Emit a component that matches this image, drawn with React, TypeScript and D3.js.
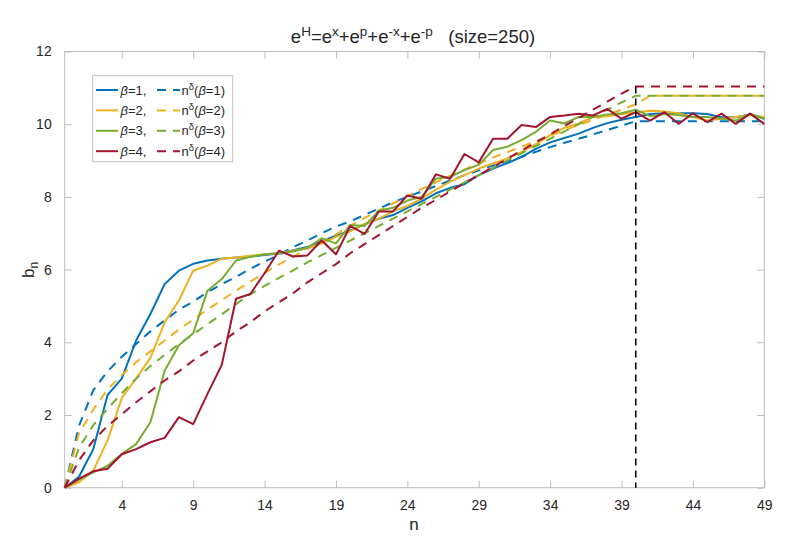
import React, { useEffect, useRef } from 'react';
import * as d3 from 'd3';

// n = 0 .. 49
const nValues = d3.range(0, 50);

// solid curves b_n for beta = 1..4
const bBeta1 = [
  0, 0.3, 1.06, 2.55, 3.0, 4.05, 4.78, 5.6, 5.97, 6.16,
  6.25, 6.3, 6.33, 6.36, 6.4, 6.44, 6.53, 6.62, 6.78, 6.93,
  7.07, 7.25, 7.4, 7.5, 7.7, 7.88, 8.1, 8.25, 8.35, 8.6,
  8.78, 8.93, 9.1, 9.32, 9.5, 9.62, 9.74, 9.9, 10.03, 10.12,
  10.2, 10.28, 10.3, 10.3, 10.3, 10.28, 10.19, 10.19, 10.27, 10.15,
];
const bBeta2 = [
  0, 0.15, 0.47, 1.3, 2.47, 3.0, 3.57, 4.55, 5.15, 5.97,
  6.11, 6.3, 6.33, 6.38, 6.42, 6.45, 6.52, 6.59, 6.72, 6.9,
  7.05, 7.25, 7.4, 7.6, 7.75, 7.95, 8.2, 8.42, 8.6, 8.78,
  8.92, 9.06, 9.24, 9.45, 9.7, 9.9, 10.02, 10.2, 10.22, 10.28,
  10.32, 10.37, 10.35, 10.3, 10.2, 10.1, 10.15, 10.2, 10.25, 10.2,
];
const bBeta3 = [
  0, 0.22, 0.42, 0.6, 0.93, 1.2, 1.8, 3.22, 3.92, 4.25,
  5.42, 5.74, 6.25, 6.35, 6.42, 6.45, 6.5, 6.6, 6.86, 6.72,
  7.23, 7.2, 7.62, 7.7, 7.9, 8.0, 8.5, 8.55, 8.74, 8.88,
  9.29, 9.38, 9.56, 9.79, 10.1, 10.02, 10.2, 10.2, 10.27, 10.3,
  10.4, 10.22, 10.28, 10.25, 10.2, 10.2, 10.15, 10.1, 10.29, 10.15,
];
const bBeta4 = [
  0, 0.25, 0.45, 0.52, 0.92, 1.06, 1.25, 1.37, 1.94, 1.75,
  2.58, 3.38, 5.2, 5.33, 5.9, 6.52, 6.36, 6.39, 6.8, 6.42,
  7.2, 6.98, 7.6, 7.6, 8.04, 7.95, 8.62, 8.5, 9.18, 8.95,
  9.6, 9.6, 9.98, 9.92, 10.2, 10.24, 10.29, 10.24, 10.42, 10.15,
  10.33, 10.1, 10.33, 10.01, 10.3, 10.06, 10.29, 10.01, 10.29, 10.01,
];

// dashed curves n^delta
const dBeta1 = [
  0, 1.7, 2.68, 3.2, 3.6, 3.95, 4.3, 4.6, 4.9, 5.12,
  5.38, 5.6, 5.8, 6.02, 6.22, 6.4, 6.62, 6.8, 7.0, 7.18,
  7.33, 7.5, 7.68, 7.85, 8.0, 8.15, 8.3, 8.45, 8.6, 8.73,
  8.86, 8.98, 9.1, 9.24, 9.37, 9.49, 9.6, 9.72, 9.84, 9.96,
  10.08, 10.08, 10.08, 10.08, 10.08, 10.08, 10.08, 10.08, 10.08, 10.08,
];
const dBeta2 = [
  0, 1.5, 2.15, 2.7, 3.1, 3.45, 3.75, 4.05, 4.35, 4.63,
  4.9, 5.16, 5.42, 5.67, 5.91, 6.14, 6.36, 6.57, 6.77, 6.97,
  7.2, 7.42, 7.62, 7.82, 8.02, 8.22, 8.4, 8.58, 8.75, 8.92,
  9.08, 9.23, 9.38, 9.53, 9.68, 9.83, 9.98, 10.12, 10.26, 10.4,
  10.55, 10.78, 10.78, 10.78, 10.78, 10.78, 10.78, 10.78, 10.78, 10.78,
];
const dBeta3 = [
  0, 1.1, 1.72, 2.17, 2.6, 3.0, 3.35, 3.65, 3.95, 4.22,
  4.5, 4.77, 5.05, 5.32, 5.55, 5.77, 5.98, 6.2, 6.4, 6.6,
  6.8, 7.0, 7.2, 7.4, 7.6, 7.8, 8.0, 8.2, 8.4, 8.6,
  8.8, 9.0, 9.2, 9.4, 9.6, 9.8, 10.0, 10.2, 10.4, 10.6,
  10.78, 10.78, 10.78, 10.78, 10.78, 10.78, 10.78, 10.78, 10.78, 10.78,
];
const dBeta4 = [
  0, 0.75, 1.3, 1.7, 2.02, 2.35, 2.65, 2.95, 3.2, 3.5,
  3.75, 4.0, 4.3, 4.55, 4.85, 5.1, 5.35, 5.65, 5.9, 6.15,
  6.45, 6.7, 6.95, 7.2, 7.45, 7.7, 7.92, 8.15, 8.38, 8.6,
  8.82, 9.05, 9.28, 9.5, 9.72, 9.95, 10.17, 10.4, 10.62, 10.84,
  11.04, 11.04, 11.04, 11.04, 11.04, 11.04, 11.04, 11.04, 11.04, 11.04,
];

const betas = [1, 2, 3, 4];
const colors = ['#0072BD', '#EDB120', '#77AC30', '#A2142F'];
const solidSeries = [bBeta1, bBeta2, bBeta3, bBeta4];
const dashedSeries = [dBeta1, dBeta2, dBeta3, dBeta4];

const xTicks = [4, 9, 14, 19, 24, 29, 34, 39, 44, 49];
const yTicks = [0, 2, 4, 6, 8, 10, 12];

// vertical marker
const cutoffN = 40;
const cutoffTop = 11.04;

const FONT = '"Liberation Sans", Arial, Helvetica, sans-serif';
const TEXT = '#262626';
const AXIS = '#bdbdbd';

export default function App() {
  const svgRef = useRef<SVGSVGElement>(null);

  useEffect(() => {
    if (!svgRef.current) return;
    const svg = d3.select(svgRef.current);
    svg.selectAll('*').remove();

    const left = 64.7, right = 764.3, top = 51.5, bottom = 487.7;
    const x = d3.scaleLinear().domain([0, 49]).range([left, right]);
    const y = d3.scaleLinear().domain([0, 12]).range([bottom, top]);

    // axes (ticks inside, MATLAB style)
    const styleAxis = (g: any) => {
      g.select('.domain').remove();
      g.selectAll('.tick line').attr('stroke', AXIS);
      g.selectAll('.tick text')
        .attr('fill', TEXT)
        .attr('font-family', FONT)
        .attr('font-size', '14px');
    };

    svg.append('g')
      .attr('transform', `translate(0,${bottom})`)
      .call(d3.axisBottom(x).tickValues(xTicks).tickSize(-7).tickPadding(12).tickFormat(d3.format('d')))
      .call(styleAxis);
    svg.append('g')
      .attr('transform', `translate(0,${top})`)
      .call(d3.axisTop(x).tickValues(xTicks).tickSize(-7).tickFormat(() => ''))
      .call(styleAxis);
    svg.append('g')
      .attr('transform', `translate(${left},0)`)
      .call(d3.axisLeft(y).tickValues(yTicks).tickSize(-7).tickPadding(13).tickFormat(d3.format('d')))
      .call(styleAxis);
    svg.append('g')
      .attr('transform', `translate(${right},0)`)
      .call(d3.axisRight(y).tickValues(yTicks).tickSize(-7).tickFormat(() => ''))
      .call(styleAxis);

    svg.append('rect')
      .attr('x', left).attr('y', top)
      .attr('width', right - left).attr('height', bottom - top)
      .attr('fill', 'none').attr('stroke', AXIS).attr('stroke-width', 1);

    const line = d3.line<number>()
      .x((_, i) => x(nValues[i]))
      .y(d => y(d));

    const plot = svg.append('g');
    betas.forEach((_, k) => {
      plot.append('path')
        .attr('d', line(solidSeries[k]))
        .attr('fill', 'none')
        .attr('stroke', colors[k])
        .attr('stroke-width', 2)
        .attr('stroke-linejoin', 'round');
      plot.append('path')
        .attr('d', line(dashedSeries[k]))
        .attr('fill', 'none')
        .attr('stroke', colors[k])
        .attr('stroke-width', 2)
        .attr('stroke-dasharray', '9,7');
    });

    plot.append('line')
      .attr('x1', x(cutoffN)).attr('x2', x(cutoffN))
      .attr('y1', y(cutoffTop)).attr('y2', y(0))
      .attr('stroke', '#000')
      .attr('stroke-width', 1.5)
      .attr('stroke-dasharray', '7,5');

    // title
    const title = svg.append('text')
      .attr('x', 413)
      .attr('y', 43)
      .attr('text-anchor', 'middle')
      .attr('font-family', FONT)
      .attr('font-size', '18.5px')
      .attr('fill', TEXT)
      .style('white-space', 'pre');
    const titleParts: [string, boolean][] = [
      ['e', false], ['H', true], ['=e', false], ['x', true], ['+e', false], ['p', true],
      ['+e', false], ['-x', true], ['+e', false], ['-p', true], ['   (size=250)', false],
    ];
    let raised = false;
    titleParts.forEach(([s, sup]) => {
      const t = title.append('tspan').text(s);
      if (sup && !raised) { t.attr('dy', -7).attr('font-size', '13.5px'); raised = true; }
      else if (sup) { t.attr('font-size', '13.5px'); }
      else if (!sup && raised) { t.attr('dy', 7); raised = false; }
    });

    // axis labels
    svg.append('text')
      .attr('x', 414).attr('y', 530)
      .attr('text-anchor', 'middle')
      .attr('font-family', FONT).attr('font-size', '17px').attr('fill', TEXT)
      .text('n');

    const yl = svg.append('text')
      .attr('transform', 'translate(34,270) rotate(-90)')
      .attr('text-anchor', 'middle')
      .attr('font-family', FONT).attr('font-size', '17px').attr('fill', TEXT);
    yl.append('tspan').text('b');
    yl.append('tspan').attr('dy', 4).attr('font-size', '12px').text('n');

    // legend
    const lg = svg.append('g');
    lg.append('rect')
      .attr('x', 92.7).attr('y', 75.7)
      .attr('width', 140).attr('height', 86)
      .attr('fill', '#fff').attr('stroke', '#c4c4c4').attr('stroke-width', 1);
    betas.forEach((b, k) => {
      const cy = 90 + k * 20.4;
      lg.append('line')
        .attr('x1', 96).attr('x2', 118).attr('y1', cy).attr('y2', cy)
        .attr('stroke', colors[k]).attr('stroke-width', 2);
      const t1 = lg.append('text')
        .attr('x', 120.5).attr('y', cy + 4.5)
        .attr('font-family', FONT).attr('font-size', '13px').attr('fill', TEXT);
      t1.append('tspan').attr('font-style', 'italic').text('β');
      t1.append('tspan').text(`=${b},`);
      lg.append('line')
        .attr('x1', 157).attr('x2', 180).attr('y1', cy).attr('y2', cy)
        .attr('stroke', colors[k]).attr('stroke-width', 2)
        .attr('stroke-dasharray', '9,7');
      const t2 = lg.append('text')
        .attr('x', 181.5).attr('y', cy + 4.5)
        .attr('font-family', FONT).attr('font-size', '13px').attr('fill', TEXT);
      t2.append('tspan').text('n');
      t2.append('tspan').attr('dy', -5).attr('font-size', '9.5px').text('δ');
      t2.append('tspan').attr('dy', 5).text('(');
      t2.append('tspan').attr('font-style', 'italic').text('β');
      t2.append('tspan').text(`=${b})`);
    });
  }, []);

  return (
    <svg
      ref={svgRef}
      width={789}
      height={558}
      style={{ position: 'absolute', left: 0, top: 0, background: '#fff' }}
    />
  );
}
